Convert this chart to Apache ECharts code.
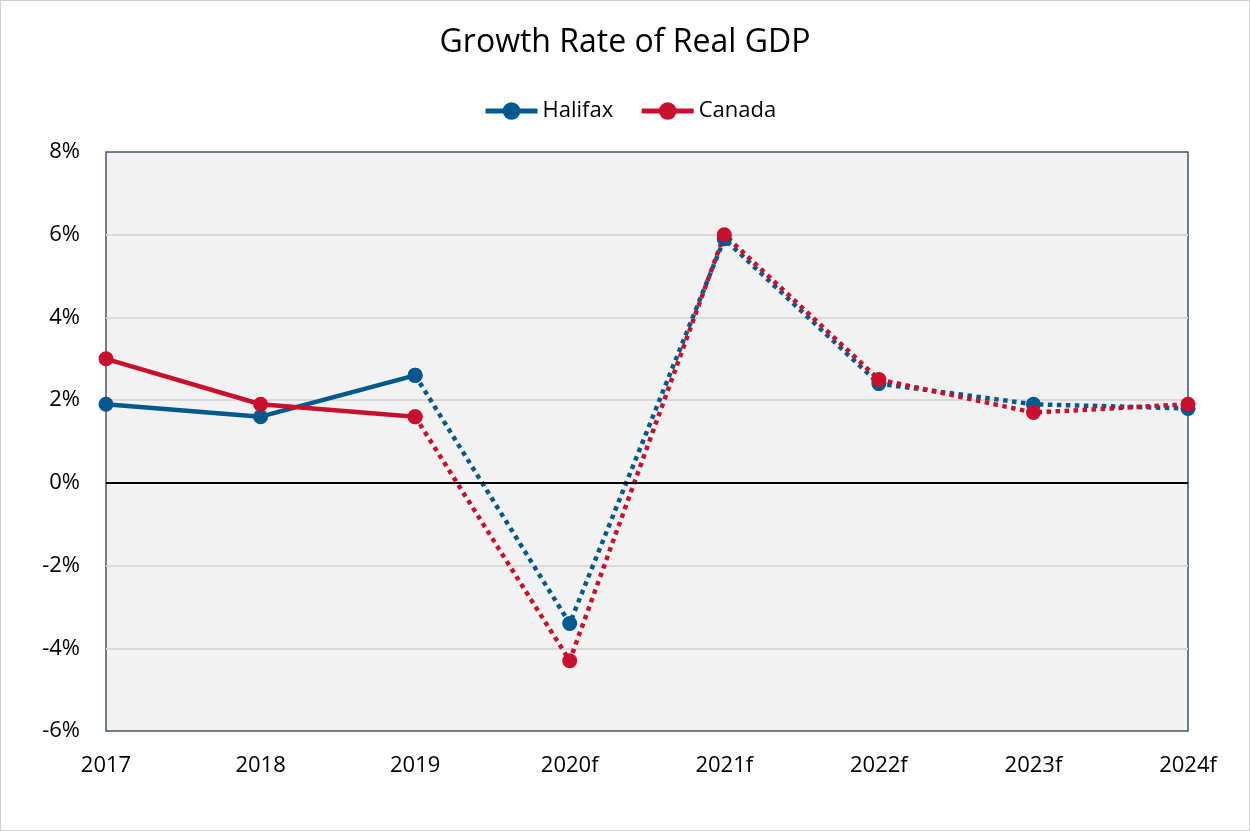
<!DOCTYPE html>
<html>
<head>
<meta charset="utf-8">
<script src="https://cdn.jsdelivr.net/npm/echarts@6/dist/echarts.min.js"></script>
<style>
html,body{margin:0;padding:0;background:#fff;}
#wrap{position:absolute;left:0;top:0;width:1248px;height:829px;border:1px solid #d0d0d0;}
#chart{width:1248px;height:829px;}
</style>
</head>
<body>
<div id="wrap"><div id="chart"></div></div>
<script>
const categories = ['2017','2018','2019','2020f','2021f','2022f','2023f','2024f'];
const halifax = [1.9, 1.6, 2.6, -3.4, 5.9, 2.4, 1.9, 1.8];
const canada = [3.0, 1.9, 1.6, -4.3, 6.0, 2.5, 1.7, 1.9];
const lastActualIndex = 2; // 2019: last actual value, forecasts after
const yTicks = [-6, -4, -2, 0, 2, 4, 6, 8];

const HAL = '#00598c';
const CAN = '#c8102e';
const FONT = '"Open Sans", "Noto Sans", sans-serif';

function solidPart(arr){ return arr.map((v,i)=> i<=lastActualIndex ? v : null); }
function dottedPart(arr){ return arr.map((v,i)=> i>=lastActualIndex ? v : null); }

function mk(name, color, data, dotted, extra){
  return Object.assign({
    name: name,
    type: 'line',
    data: data,
    symbol: 'circle',
    symbolSize: 15,
    showSymbol: true,
    connectNulls: false,
    itemStyle: {color: color},
    lineStyle: {color: color, width: 4.5, type: dotted ? [4.5,4.5] : 'solid', cap: 'butt'},
    emphasis: {disabled: true},
    animation: false
  }, extra || {});
}

const chart = echarts.init(document.getElementById('chart'), null, {renderer:'canvas'});
chart.setOption({
  backgroundColor: '#ffffff',
  title: {
    text: 'Growth Rate of Real GDP',
    left: 'center', top: 21,
    textStyle: {fontFamily: FONT, fontSize: 32, fontWeight: 'normal', color: '#000'}
  },
  legend: {
    data: ['Halifax', 'Canada'],
    top: 94, left: 477,
    itemWidth: 52, itemHeight: 22, itemGap: 26,
    lineStyle: {width: 5},
    textStyle: {fontFamily: FONT, fontSize: 22, color: '#000'}
  },
  grid: {
    left: 105, right: 61, top: 151, bottom: 99,
    show: true, backgroundColor: '#f2f2f2', borderColor: '#44546a', borderWidth: 1.5,
    containLabel: false
  },
  xAxis: {
    type: 'category',
    data: categories,
    boundaryGap: false,
    axisLine: {show: false},
    axisTick: {show: false},
    axisLabel: {fontFamily: FONT, fontSize: 22, color: '#000', margin: 24},
    splitLine: {show: false}
  },
  yAxis: {
    type: 'value',
    min: yTicks[0], max: yTicks[yTicks.length-1], interval: 2,
    axisLine: {show: false},
    axisTick: {show: false},
    axisLabel: {fontFamily: FONT, fontSize: 22, color: '#000', margin: 26, formatter: v => v + '%'},
    splitLine: {show: true, showMinLine: false, showMaxLine: false, lineStyle: {color: '#d9d9d9', width: 2}}
  },
  series: [
    mk('Halifax', HAL, solidPart(halifax), false, {
      markLine: {
        silent: true, symbol: 'none', label: {show: false},
        lineStyle: {color: '#000', width: 2, type: 'solid'},
        data: [{yAxis: 0}], animation: false
      }
    }),
    mk('Halifax forecast', HAL, dottedPart(halifax), true),
    mk('Canada', CAN, solidPart(canada), false),
    mk('Canada forecast', CAN, dottedPart(canada), true)
  ]
});
</script>
</body>
</html>
